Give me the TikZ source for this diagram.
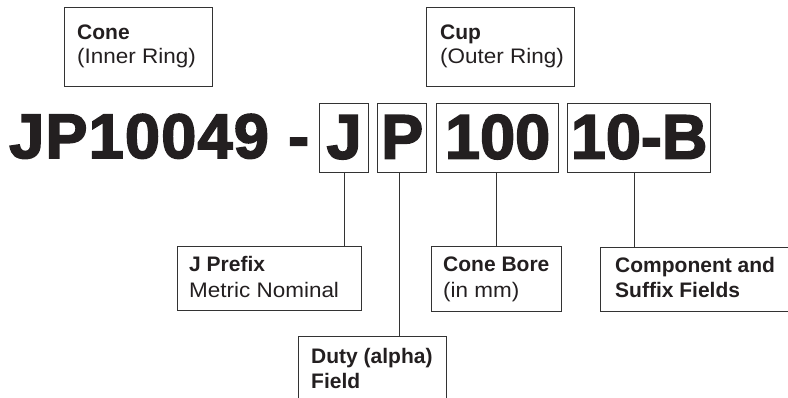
\documentclass[tikz,border=0pt]{standalone}
\usepackage{fontspec}
\setmainfont{Liberation Sans}
\newfontfamily\regw{Liberation Sans}[FakeStretch=1.07]
\newfontfamily\heavy{Liberation Sans}[FakeBold=2.6]
\newfontfamily\heavyw{Liberation Sans}[FakeBold=2.6, LetterSpace=2]
\definecolor{ink}{HTML}{231F20}
\definecolor{boxc}{HTML}{333333}
\begin{document}
\begin{tikzpicture}[x=1pt,y=-1pt,
  frame/.style={draw=boxc, line width=1.3pt, inner sep=0pt, anchor=north west},
  bigbox/.style={frame, minimum height=69, text height=45, text depth=4,
    font=\heavy\bfseries\fontsize{63}{63}\selectfont, text=ink},
  big/.style={anchor=base west, inner sep=0pt, text=ink,
    font=\heavyw\bfseries\fontsize{63}{63}\selectfont},
  lblb/.style={anchor=base west, inner sep=0pt, text=ink,
    font=\bfseries\fontsize{21}{26}\selectfont},
  lblr/.style={anchor=base west, inner sep=0pt, text=ink,
    font=\regw\fontsize{21}{26}\selectfont},
  conn/.style={draw=boxc, line width=1pt}]
\useasboundingbox (0,0) rectangle (788,398);

% top label boxes
\node[frame, minimum width=148, minimum height=79] (cone) at (64,7) {};
\node[lblb] (conea) at (77,40) {Cone};
\node[lblr] (coneb) at (77,63.3) {(Inner Ring)};
\node[frame, minimum width=148, minimum height=79] (cup) at (426,7) {};
\node[lblb] (cupa) at (440,40) {Cup};
\node[lblr] (cupb) at (440,63.3) {(Outer Ring)};

% part number
\node[big] (jp) at (9,158) {JP10049};
\node[big] (dash) at (288,158) {-};
\node[bigbox, minimum width=49] (jbox) at (319,103) {J};
\node[bigbox, minimum width=49] (pbox) at (377,103) {P};
\node[bigbox, minimum width=122] (hbox) at (436,103) {100};
\node[bigbox, minimum width=143] (sbox) at (567,103) {10-B};

% bottom label boxes
\node[frame, minimum width=184, minimum height=64] (jpre) at (177,246) {};
\node[lblb] (jprea) at (189,271.7) {J Prefix};
\node[lblr] (jpreb) at (189,297.7) {Metric Nominal};

\node[frame, minimum width=148, minimum height=90] (duty) at (298,336) {};
\node[lblb] (dutya) at (311,363.3) {Duty (alpha)};
\node[lblb] (dutyb) at (311,388.3) {Field};

\node[frame, minimum width=130, minimum height=65] (bore) at (431,246) {};
\node[lblb] (borea) at (443,272) {Cone Bore};
\node[lblr] (boreb) at (443,297.7) {(in mm)};

\node[frame, minimum width=210, minimum height=64] (comp) at (600,247) {};
\node[lblb] (compa) at (615,273) {Component and};
\node[lblb] (compb) at (615,298) {Suffix Fields};

% connectors
\coordinate (jl) at (jbox.south);
\coordinate (pl) at ([xshift=-2.5pt]pbox.south);
\coordinate (hl) at ([xshift=-1pt]hbox.south);
\coordinate (sl) at ([xshift=-4.5pt]sbox.south);
\draw[conn] (jl) -- (jl |- jpre.north);
\draw[conn] (pl) -- (pl |- duty.north);
\draw[conn] (hl) -- (hl |- bore.north);
\draw[conn] (sl) -- (sl |- comp.north);
\end{tikzpicture}
\end{document}
